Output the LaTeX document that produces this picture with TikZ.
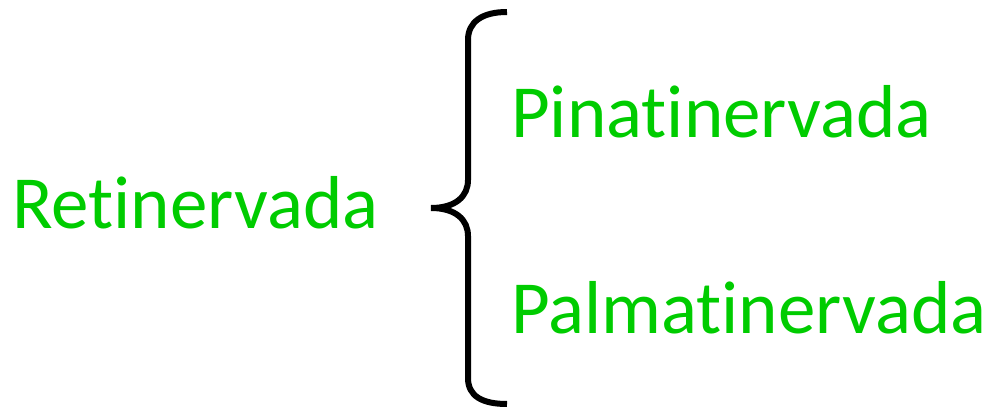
\documentclass[tikz,border=0pt]{standalone}
\usepackage{fontspec}
\setmainfont[Ligatures={NoCommon}]{Carlito}
\definecolor{leafgreen}{RGB}{0,204,0}
\begin{document}
\begin{tikzpicture}[x=1pt,y=1pt,
  label/.style={anchor=base west,inner sep=0pt,text=leafgreen,font=\fontsize{75}{80}\selectfont},
  bracestyle/.style={draw=black,line width=6pt,line join=miter}]
\useasboundingbox (0,0) rectangle (988,408);
\node[label] (ret) at (12,180) {Retinervada};
\node[label] (pin) at (511,271) {Pinatinervada};
\node[label] (pal) at (511,75) {Palmatinervada};
\draw[bracestyle] (507,396) .. controls (482,396) and (468,386) .. (468,368)
  -- (468,228) .. controls (468,212) and (456,200) .. (431,200)
  .. controls (456,200) and (468,188) .. (468,172)
  -- (468,30) .. controls (468,12) and (482,4) .. (507,4);
\end{tikzpicture}
\end{document}
